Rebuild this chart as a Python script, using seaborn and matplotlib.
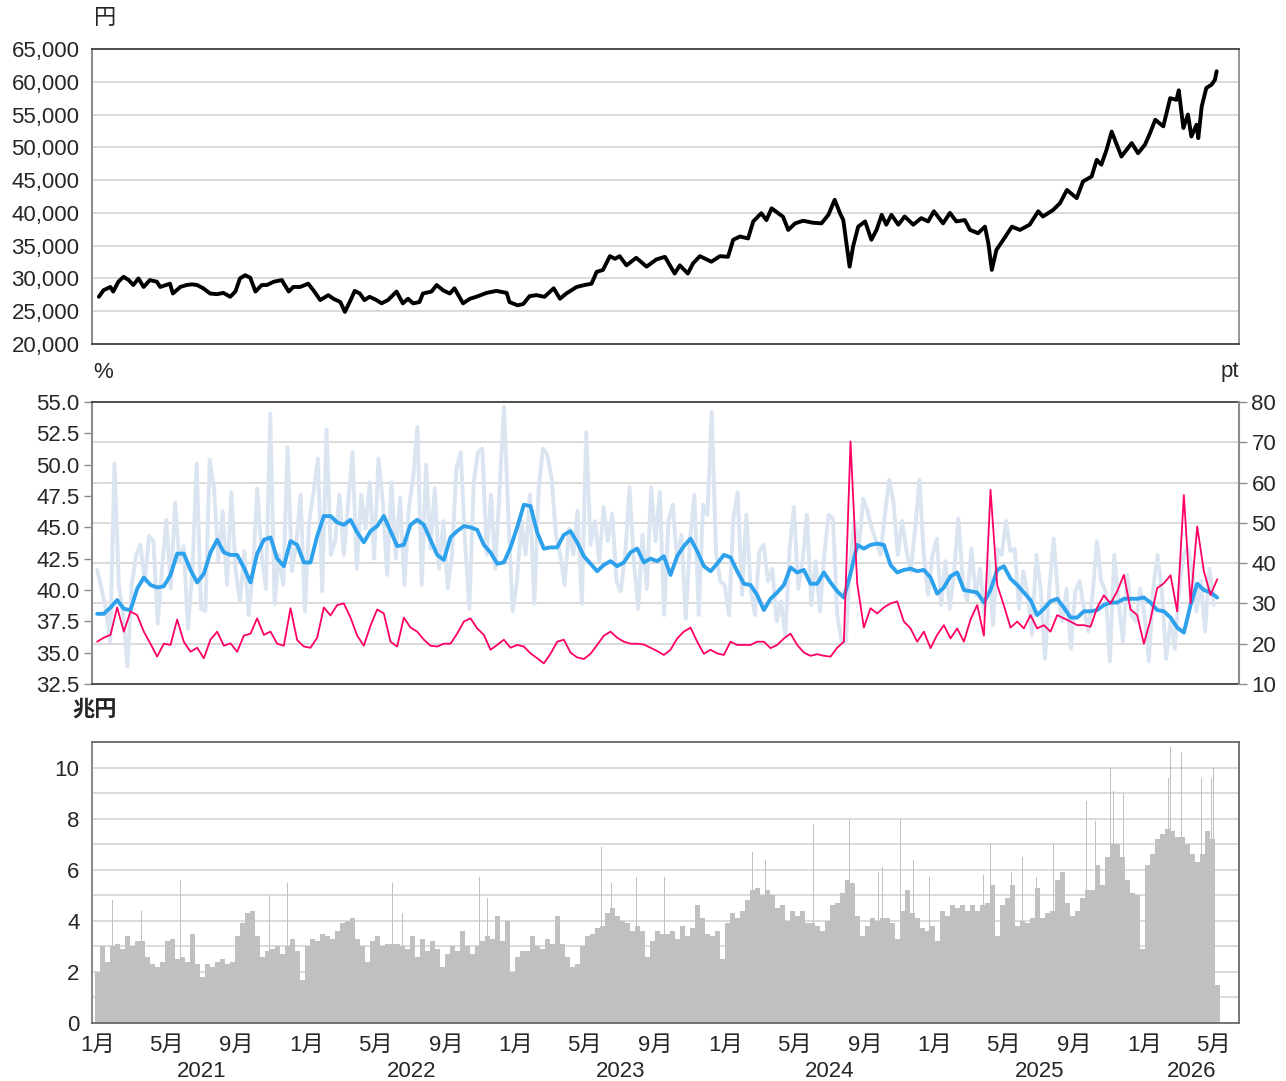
import numpy as np
import pandas as pd
import matplotlib
matplotlib.use("Agg")
import matplotlib.pyplot as plt
import matplotlib.dates as mdates
import matplotlib.ticker as mticker
import matplotlib.transforms as mtransforms
import seaborn as sns

sns.set_style("white")
plt.rcParams['font.family'] = ['Liberation Sans', 'Noto Sans CJK JP', 'DejaVu Sans']

# Nikkei average (yen)
price_dates = [
    "2021-01-04", "2021-01-12", "2021-01-24", "2021-01-29", "2021-02-07", "2021-02-16", "2021-02-25",
    "2021-03-05", "2021-03-14", "2021-03-23", "2021-04-03", "2021-04-15", "2021-04-21", "2021-05-08",
    "2021-05-13", "2021-05-26", "2021-06-06", "2021-06-15", "2021-06-24", "2021-07-05", "2021-07-17",
    "2021-07-29", "2021-08-09", "2021-08-21", "2021-08-30", "2021-09-07", "2021-09-16", "2021-09-25",
    "2021-10-04", "2021-10-15", "2021-10-24", "2021-11-05", "2021-11-19", "2021-12-01", "2021-12-09",
    "2021-12-21", "2022-01-04", "2022-01-13", "2022-01-25", "2022-02-08", "2022-02-17", "2022-03-01",
    "2022-03-09", "2022-03-20", "2022-03-26", "2022-04-04", "2022-04-12", "2022-04-21", "2022-05-03",
    "2022-05-12", "2022-05-23", "2022-06-07", "2022-06-18", "2022-06-27", "2022-07-06", "2022-07-17",
    "2022-07-23", "2022-08-07", "2022-08-16", "2022-08-27", "2022-09-08", "2022-09-16", "2022-10-01",
    "2022-10-13", "2022-10-24", "2022-11-11", "2022-11-28", "2022-12-16", "2022-12-21", "2023-01-04",
    "2023-01-14", "2023-01-25", "2023-02-06", "2023-02-20", "2023-03-08", "2023-03-19", "2023-03-30",
    "2023-04-08", "2023-04-17", "2023-05-01", "2023-05-13", "2023-05-22", "2023-06-02", "2023-06-14",
    "2023-06-23", "2023-07-01", "2023-07-13", "2023-07-30", "2023-08-17", "2023-09-03", "2023-09-18",
    "2023-10-05", "2023-10-14", "2023-10-28", "2023-11-06", "2023-11-18", "2023-12-08", "2023-12-23",
    "2024-01-06", "2024-01-15", "2024-01-27", "2024-02-10", "2024-02-19", "2024-03-04", "2024-03-13",
    "2024-03-22", "2024-04-11", "2024-04-20", "2024-05-02", "2024-05-16", "2024-06-02", "2024-06-17",
    "2024-06-29", "2024-07-10", "2024-07-19", "2024-07-25", "2024-08-05", "2024-08-11", "2024-08-20",
    "2024-09-01", "2024-09-12", "2024-09-21", "2024-09-30", "2024-10-08", "2024-10-17", "2024-10-29",
    "2024-11-09", "2024-11-24", "2024-12-08", "2024-12-20", "2024-12-30", "2025-01-15", "2025-01-27",
    "2025-02-07", "2025-02-22", "2025-03-03", "2025-03-17", "2025-03-29", "2025-04-04", "2025-04-10",
    "2025-04-18", "2025-04-30", "2025-05-15", "2025-05-29", "2025-06-15", "2025-06-30", "2025-07-08",
    "2025-07-26", "2025-08-07", "2025-08-19", "2025-09-05", "2025-09-16", "2025-10-01", "2025-10-10",
    "2025-10-18", "2025-10-27", "2025-11-05", "2025-11-14", "2025-11-22", "2025-12-10", "2025-12-21",
    "2026-01-02", "2026-01-11", "2026-01-20", "2026-02-03", "2026-02-15", "2026-02-26", "2026-03-02",
    "2026-03-10", "2026-03-18", "2026-03-24", "2026-04-02", "2026-04-05", "2026-04-11", "2026-04-19",
    "2026-04-28", "2026-05-04", "2026-05-07",
]
price = [
    27200, 28200, 28700, 28000, 29500, 30250, 29750,
    29000, 30000, 28700, 29750, 29500, 28700, 29200,
    27700, 28700, 29000, 29100, 29000, 28500, 27700,
    27600, 27800, 27200, 28000, 30000, 30500, 30100,
    28000, 29000, 29000, 29500, 29750, 28000, 28700,
    28700, 29200, 28200, 26700, 27450, 26900, 26400,
    24900, 26900, 28100, 27700, 26700, 27200, 26700,
    26200, 26700, 28000, 26200, 26900, 26200, 26400,
    27700, 28000, 29000, 28200, 27700, 28500, 26200,
    26900, 27200, 27800, 28100, 27800, 26400, 25900,
    26100, 27300, 27450, 27200, 28500, 26900, 27700,
    28200, 28700, 29000, 29200, 31000, 31300, 33400,
    33000, 33400, 32000, 33150, 31800, 32900, 33300,
    30750, 32000, 30750, 32300, 33400, 32550, 33400,
    33300, 35900, 36400, 36100, 38700, 39950, 38900,
    40700, 39400, 37400, 38400, 38800, 38500, 38400,
    39700, 42000, 40000, 38900, 31800, 34850, 37900,
    38700, 35900, 37400, 39700, 38200, 39700, 38200,
    39450, 38200, 39200, 38700, 40250, 38400, 40000,
    38700, 38900, 37400, 36900, 37900, 35350, 31300,
    34350, 35900, 37900, 37400, 38200, 40250, 39450,
    40450, 41500, 43500, 42250, 44800, 45550, 48100,
    47350, 49600, 52400, 50400, 48600, 50650, 49100,
    50400, 52200, 54200, 53200, 57500, 57250, 58700,
    52950, 55000, 51650, 53450, 51400, 56250, 59050,
    59550, 60300, 61600,
]

# short-selling ratio, daily (%)
short_ratio = [
    41.6, 40.1, 38.5, 35.9, 50.1, 40.4, 38.0, 33.9, 40.4, 42.8,
    43.6, 40.7, 44.3, 43.9, 37.3, 41.7, 45.6, 40.1, 47.0, 42.3,
    43.5, 36.9, 41.5, 50.1, 38.5, 38.3, 50.4, 48.1, 42.3, 46.3,
    40.4, 47.8, 41.5, 39.1, 43.1, 38.0, 41.5, 48.1, 42.8, 40.1,
    54.1, 38.9, 42.8, 40.4, 51.4, 41.5, 43.6, 47.6, 38.3, 45.5,
    47.8, 50.5, 39.9, 52.8, 42.8, 43.9, 47.6, 42.8, 47.0, 51.0,
    41.7, 47.6, 44.9, 48.6, 42.5, 50.5, 47.0, 41.2, 48.6, 42.5,
    47.4, 40.4, 46.5, 48.9, 53.0, 40.4, 50.0,
    43.3, 48.1, 41.7, 45.5, 40.1, 42.8, 49.7, 51.0, 43.9, 38.5,
    48.6, 51.0, 51.3, 42.8, 47.6, 41.7, 48.1, 54.6, 46.0, 38.3,
    40.7, 45.5, 42.8, 47.6, 38.9, 48.0, 51.3, 50.8, 48.9, 44.4,
    42.8, 40.4, 44.9, 42.8, 46.3, 38.9, 52.6, 43.6, 45.5, 42.3,
    46.6, 43.9, 46.1, 40.7, 39.9, 42.8, 48.2, 42.3, 38.5, 44.4,
    40.1, 48.2, 43.9, 47.8, 38.0, 45.5, 46.8, 42.3, 44.4, 37.7,
    44.1, 47.6, 38.0, 46.8, 46.0, 54.2, 42.8, 40.7, 40.4, 38.0,
    45.7, 47.8, 39.6, 46.0, 40.1, 38.0, 43.1, 43.6, 40.7, 41.7,
    37.5, 39.1, 36.4, 43.3, 46.6, 40.1, 42.3, 46.0, 38.8, 42.3,
    38.3, 42.8, 46.0, 45.7, 38.0, 35.9, 35.9,
    42.3, 45.5, 43.3, 47.3, 46.3, 44.9, 43.9, 42.8, 46.0, 48.8,
    47.0, 42.8, 45.5, 43.1, 41.5, 44.9, 48.8, 42.8, 39.6, 42.8,
    44.1, 38.8, 42.3, 38.5, 41.5, 45.7, 40.7, 39.1, 43.3, 39.6,
    41.7, 38.0, 42.3, 37.2, 43.3, 42.8, 45.5, 43.1, 43.3, 38.5,
    41.5, 39.6, 36.4, 42.8, 40.1, 34.5, 40.1, 44.1, 39.6, 37.5,
    40.1, 35.3, 39.9, 40.7, 38.5, 36.7, 39.6, 43.9, 40.7, 39.9,
    34.3, 42.8, 39.1, 35.9, 41.2, 38.0, 37.5, 40.1, 38.0, 34.3,
    40.1, 42.8, 39.9, 34.5, 37.5, 35.3, 40.1, 42.8, 43.3, 41.7,
    38.3, 40.7, 36.7, 41.7, 38.8,
]

# short-selling ratio, moving average (%)
short_ma = [
    38.1, 38.1, 38.6, 39.2, 38.5, 38.4, 40.1, 41.0, 40.4, 40.2,
    40.3, 41.2, 42.9, 42.9, 41.6, 40.6, 41.3, 43.0, 44.0, 43.0,
    42.8, 42.8, 41.8, 40.6, 42.9, 44.0, 44.2, 42.5, 41.9, 43.9,
    43.6, 42.2, 42.2, 44.3, 45.9, 45.9, 45.4, 45.2, 45.6, 44.6,
    43.8, 44.7, 45.1, 45.9, 44.7, 43.5, 43.6, 45.2, 45.6,
    45.2, 44.0, 42.8, 42.4, 44.2, 44.7, 45.1, 45.0, 44.8, 43.6,
    43.0, 42.1, 42.2, 43.4, 45.0, 46.8, 46.7, 44.6, 43.3, 43.4,
    43.4, 44.4, 44.7, 43.8, 42.7, 42.1, 41.5, 42.0, 42.3, 41.9,
    42.2, 43.0, 43.3, 42.2, 42.5, 42.3, 42.7, 41.2, 42.7, 43.5,
    44.1, 43.1, 41.9, 41.5, 42.1, 42.8, 42.6, 41.5, 40.5, 40.4,
    39.6, 38.4, 39.3, 39.8, 40.4, 41.8, 41.4, 41.6, 40.5, 40.5,
    41.4, 40.6, 39.9,
    39.4, 41.3, 43.6, 43.3, 43.6, 43.7, 43.6, 42.0, 41.4, 41.6,
    41.7, 41.5, 41.6, 41.0, 39.7, 40.2, 41.1, 41.4, 40.0, 39.9,
    39.8, 39.0, 40.0, 41.6, 41.9, 40.9, 40.4, 39.8, 39.2, 38.0,
    38.5, 39.1, 39.3, 38.6, 37.8, 37.8, 38.3, 38.3, 38.4, 38.8,
    39.0, 39.0, 39.3, 39.3, 39.3, 39.4, 39.0, 38.4, 38.3, 37.8,
    37.0, 36.6, 38.8, 40.5, 40.0, 39.8, 39.4,
]

# Nikkei VI (pt)
vi = [
    20.5, 21.5, 22.2, 29.0, 23.0, 28.0, 27.1, 23.0, 20.0, 16.8,
    20.0, 19.7, 26.0, 20.5, 18.0, 19.0, 16.4, 21.0, 23.0, 19.5,
    20.1, 18.0, 22.0, 22.5, 26.3, 22.2, 23.0, 20.0, 19.5, 28.8,
    20.9, 19.3, 19.0, 21.5, 29.0, 27.0, 29.6, 30.0, 26.5, 22.0,
    19.5, 24.5, 28.5, 27.5, 20.5, 19.3, 26.5, 24.0, 23.0,
    21.0, 19.5, 19.3, 20.0, 20.0, 22.5, 25.5, 26.3, 23.8, 22.2,
    18.5, 19.7, 21.0, 19.0, 19.7, 19.3, 17.6, 16.4, 15.1, 17.5,
    20.5, 21.0, 17.8, 16.6, 16.2, 17.5, 19.7, 22.0, 23.0, 21.5,
    20.5, 20.0, 20.0, 19.8, 19.0, 18.2, 17.2, 18.5, 21.3, 23.0,
    24.0, 20.5, 17.5, 18.5, 17.6, 17.2, 20.5, 19.7, 19.7, 19.7,
    20.5, 20.5, 18.9, 19.7, 21.3, 22.5, 19.7, 17.8, 17.0, 17.4,
    17.0, 16.8, 19.0,
    20.5, 70.2, 35.0, 24.0, 28.8, 27.5, 29.0, 30.0, 30.5, 25.5,
    23.8, 20.5, 23.0, 18.9, 22.2, 24.6, 21.3, 23.8, 20.5, 26.0,
    29.6, 22.0, 58.2, 34.6, 29.5, 24.0, 25.5, 23.8, 27.1, 23.8,
    24.6, 23.0, 27.1, 26.3, 25.5, 24.6, 24.6, 24.2, 29.0, 32.0,
    30.0, 33.0, 37.1, 28.5, 27.1, 20.0, 26.0, 33.8, 35.0, 37.0,
    28.0, 56.9, 30.0, 49.1, 38.0, 32.1, 36.0,
]

# trading value (trillion yen): regular level ...
volume = [
    2.0, 3.0, 2.4, 3.0, 3.1, 2.9, 3.4, 3.0, 3.2, 3.2,
    2.6, 2.3, 2.2, 2.4, 3.2, 3.3, 2.5, 2.6, 2.4, 3.5,
    2.3, 1.8, 2.3, 2.2, 2.4, 2.5, 2.3, 2.4, 3.4, 3.9,
    4.3, 4.4, 3.4, 2.6, 2.8, 2.9, 3.0, 2.7, 3.0, 3.3,
    2.8, 1.7, 3.0, 3.3, 3.2, 3.5, 3.4, 3.3, 3.6, 3.9,
    4.0, 4.1, 3.3, 3.0, 2.4, 3.2, 3.4, 3.0, 3.1, 3.1,
    3.1, 3.0, 2.9, 3.4, 2.6, 3.3,
    2.8, 3.2, 2.9, 2.2, 2.7, 3.0, 2.8, 3.6, 3.0, 2.7,
    3.0, 3.2, 3.4, 3.3, 4.2, 3.2, 4.0, 2.0, 2.6, 2.8,
    2.8, 3.4, 3.0, 2.9, 3.3, 3.1, 4.2, 3.1, 2.6, 2.2,
    2.3, 3.0, 3.4, 3.5, 3.7, 3.8, 4.3, 4.5, 4.2, 4.0,
    3.9, 3.6, 3.8, 3.6, 2.6, 3.2, 3.6, 3.5, 3.5, 3.6,
    3.3, 3.8, 3.4, 3.7, 4.6, 4.1, 3.5, 3.4, 3.6, 2.5,
    3.9, 4.3, 4.1, 4.4, 4.8, 5.2, 5.3, 5.0, 5.2, 5.0,
    4.5, 4.6, 4.0, 4.4, 4.2, 4.4, 3.9, 3.9, 3.8, 3.6,
    4.0, 4.6, 4.7, 5.1, 5.6,
    5.5, 4.2, 3.4, 3.8, 4.1, 4.0, 4.1, 4.1, 3.9, 3.3,
    4.4, 5.2, 4.3, 4.1, 3.7, 3.6, 3.8, 3.2, 4.4, 4.2,
    4.6, 4.5, 4.6, 4.4, 4.6, 4.4, 4.6, 4.7, 5.4, 3.4,
    4.6, 4.9, 5.4, 3.8, 4.0, 3.9, 4.1, 5.3, 4.1, 4.3,
    4.4, 5.6, 5.9, 4.7, 4.2, 4.4, 4.9, 5.2, 5.2, 6.2,
    5.4, 6.5, 7.0, 7.0, 6.5, 5.6, 5.1, 5.0, 2.9, 6.2,
    6.6, 7.2, 7.4, 7.6, 7.5, 7.3, 7.3, 7.0, 6.6, 6.3,
    6.6, 7.5, 7.2, 1.5,
]

# ... and single-day peaks
spike_dates = [
    "2021-01-27", "2021-03-19", "2021-05-27", "2021-10-28", "2021-11-29", "2022-05-31",
    "2022-06-18", "2022-10-30", "2022-11-13", "2023-05-31", "2023-06-17", "2023-07-30",
    "2023-09-18", "2023-10-30", "2024-02-18", "2024-03-11", "2024-06-03", "2024-08-05",
    "2024-09-24", "2024-10-01", "2024-11-01", "2024-11-25", "2024-12-23", "2025-03-03",
    "2025-03-26", "2025-04-08", "2025-05-14", "2025-06-02", "2025-06-27", "2025-07-26",
    "2025-09-22", "2025-10-07", "2025-11-03", "2025-11-08", "2025-11-25", "2026-01-16",
    "2026-02-12", "2026-02-16", "2026-03-07", "2026-04-11", "2026-04-28", "2026-05-02",
]
spike_vals = [
    4.8, 4.4, 5.6, 5.0, 5.5, 5.5,
    4.3, 5.7, 4.9, 6.9, 5.5, 5.7,
    5.7, 5.7, 6.7, 6.4, 7.8, 8.0,
    5.9, 6.1, 8.0, 6.4, 5.7, 6.2,
    5.8, 7.0, 5.9, 6.5, 5.7, 7.0,
    8.7, 7.9, 10.0, 9.1, 9.0, 7.7,
    9.6, 10.8, 10.6, 9.6, 9.6, 10.0,
]

price_x = pd.to_datetime(price_dates)
ratio_x = pd.date_range("2021-01-01", "2026-05-02", periods=len(short_ratio))
mid_x = pd.date_range("2021-01-01", "2026-05-08", periods=len(short_ma))
vol_x = pd.date_range("2021-01-01", "2026-05-08", periods=len(volume))
spike_x = pd.to_datetime(spike_dates)

x_min, x_max = pd.Timestamp("2020-12-23"), pd.Timestamp("2026-06-15")
grid_c = "#d4d4d4"
dark = "#404040"
gray = "#8c8c8c"
fs = 16

W, H = 1286, 1081
fig = plt.figure(figsize=(W / 100, H / 100), dpi=100)
L, R = 92 / W, (1239 - 92) / W
ax1 = fig.add_axes([L, 1 - 344 / H, R, 295 / H])
ax2 = fig.add_axes([L, 1 - 684 / H, R, 282 / H])
ax2r = ax2.twinx()
ax3 = fig.add_axes([L, 1 - 1023 / H, R, 281 / H])

# --- top: price
sns.lineplot(x=price_x, y=price, ax=ax1, color="black", linewidth=2.8)
ax1.set_ylim(20000, 65000)
ax1.set_yticks(range(20000, 65001, 5000))
ax1.yaxis.set_major_formatter(mticker.FuncFormatter(lambda v, p: f"{v:,.0f}"))
ax1.yaxis.grid(True, color=grid_c, linewidth=1.2)
ax1.set_axisbelow(True)

# --- middle: short ratio and VI
for pt in range(20, 80, 10):
    ax2.axhline(32.5 + (pt - 10) * 22.5 / 70, color=grid_c, linewidth=1.2, zorder=0)
sns.lineplot(x=ratio_x, y=short_ratio, ax=ax2, color="#dbe5f1", linewidth=2.8)
sns.lineplot(x=mid_x, y=short_ma, ax=ax2, color="#2ea1ec", linewidth=2.8)
sns.lineplot(x=mid_x, y=vi, ax=ax2r, color="#ff0066", linewidth=1.3)
ax2.set_ylim(32.5, 55)
ax2.set_yticks(np.arange(32.5, 55.01, 2.5))
ax2.yaxis.set_major_formatter(mticker.FormatStrFormatter("%.1f"))
ax2r.set_ylim(10, 80)
ax2r.set_yticks(range(10, 81, 10))

# --- bottom: trading value
step = (vol_x[1] - vol_x[0]).total_seconds() / 86400
ax3.bar(vol_x, volume, width=step, color="#c0c0c0", linewidth=0)
ax3.bar(spike_x, spike_vals, width=1.6, color="#c0c0c0", linewidth=0)
ax3.set_ylim(0, 11)
ax3.set_yticks(range(0, 11, 2))
ax3.set_yticks(range(1, 12, 2), minor=True)
ax3.yaxis.grid(True, which="both", color=grid_c, linewidth=1.2)
ax3.set_axisbelow(True)

month_fmt = mticker.FuncFormatter(lambda v, p: f"{mdates.num2date(v).month}月")
ax3.xaxis.set_major_locator(mdates.MonthLocator(bymonth=[1]))
ax3.xaxis.set_minor_locator(mdates.MonthLocator(bymonth=[5, 9]))
ax3.xaxis.set_major_formatter(month_fmt)
ax3.xaxis.set_minor_formatter(month_fmt)
ax3.tick_params(axis="x", which="major", direction="inout", length=11, width=1.5,
                color="#707070", labelsize=fs, pad=3)
ax3.tick_params(axis="x", which="minor", direction="inout", length=6, width=1.5,
                color="#909090", labelsize=fs, pad=5.5)

trans = mtransforms.blended_transform_factory(ax3.transData, ax3.transAxes)
for yr in range(2021, 2027):
    a = pd.Timestamp(f"{yr}-01-01")
    b = min(pd.Timestamp(f"{yr + 1}-01-01"), x_max)
    ax3.text(a + (b - a) / 2, -0.171, str(yr), transform=trans,
             ha="center", va="center", fontsize=fs)

# --- common styling
for ax in (ax1, ax2, ax2r, ax3):
    ax.set_xlim(x_min, x_max)
    ax.set_xlabel("")
    ax.set_ylabel("")
    ax.tick_params(axis="y", which="both", direction="out", length=6, width=1,
                   color=gray, labelsize=fs, pad=3)
for ax in (ax1, ax2, ax2r):
    ax.tick_params(axis="x", which="both", bottom=False, labelbottom=False)

for ax in (ax1, ax2, ax3):
    for s in ("top", "bottom", "right"):
        ax.spines[s].set_color(dark)
        ax.spines[s].set_linewidth(1.3)
    ax.spines["left"].set_color(gray)
    ax.spines["left"].set_linewidth(1.5)
ax2.spines["right"].set_visible(False)
for s in ("top", "bottom", "left"):
    ax2r.spines[s].set_visible(False)
ax2r.spines["right"].set_color(gray)
ax2r.spines["right"].set_linewidth(1.5)
ax1.spines["right"].set_color(gray)
for s in ("top", "bottom", "right"):
    ax3.spines[s].set_color("#6a6a6a")

fig.text(105 / W, 1 - 18 / H, "円", ha="center", va="center", fontsize=fs)
fig.text(103 / W, 1 - 372 / H, "%", ha="center", va="center", fontsize=fs)
fig.text(1230 / W, 1 - 372 / H, "pt", ha="center", va="center", fontsize=fs)
fig.text(95 / W, 1 - 710 / H, "兆円", ha="center", va="center", fontsize=fs,
         fontweight="bold")

fig.savefig("out.png", dpi=100)
